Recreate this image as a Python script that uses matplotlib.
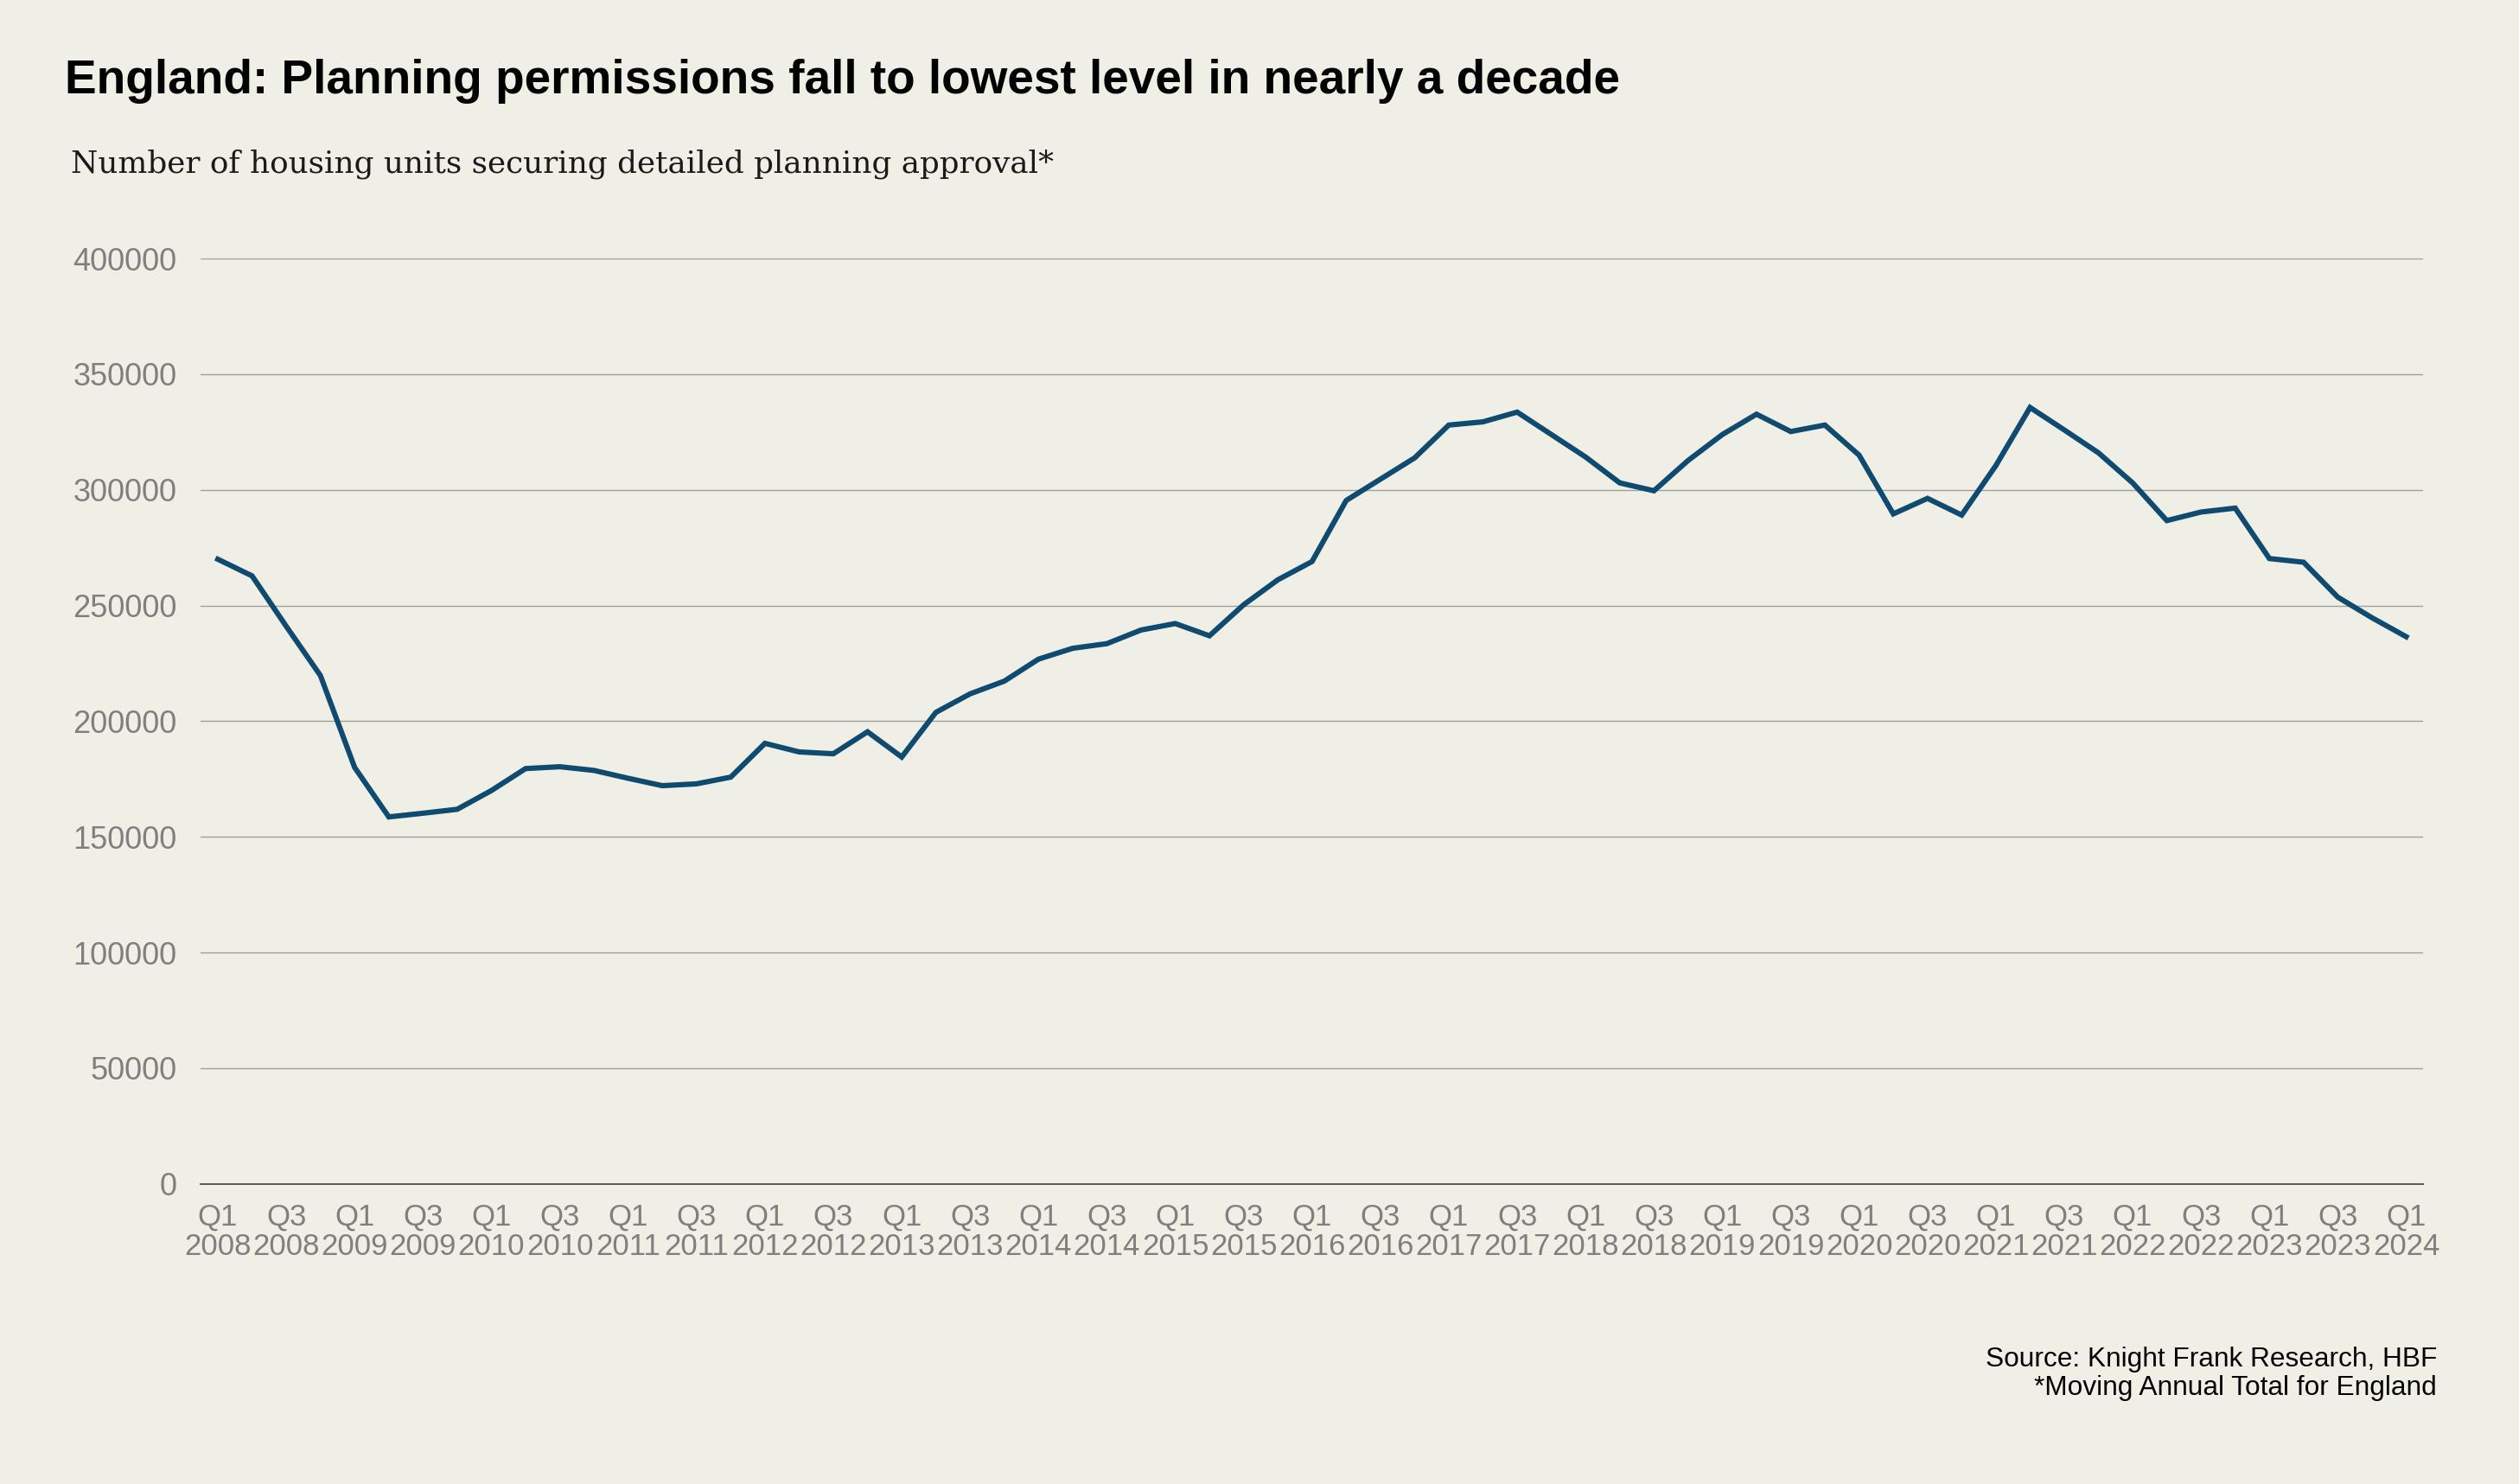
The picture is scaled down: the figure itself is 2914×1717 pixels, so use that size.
import numpy as np
import matplotlib
matplotlib.use("Agg")
from matplotlib import pyplot as plt

# quarterly moving annual total, Q1 2008 .. Q1 2024
years = list(range(2008, 2025))
quarters = [f"Q{q}\n{y}" for y in years for q in (1, 2, 3, 4)][:65]

approvals = [
    270000, 262800, 241000, 219700,   # 2008
    180000, 158600, 160200, 161900,   # 2009
    170000, 179500, 180300, 178700,   # 2010
    175300, 172100, 172900, 175800,   # 2011
    190400, 186700, 185900, 195400,   # 2012
    184500, 203800, 211800, 217300,   # 2013
    226800, 231500, 233500, 239400,   # 2014
    242200, 236900, 250300, 261100,   # 2015
    269000, 295400, 304600, 313800,   # 2016
    328000, 329400, 333600, 323900,   # 2017
    314200, 303000, 299600, 312700,   # 2018
    323900, 332700, 325200, 328000,   # 2019
    315000, 289600, 296300, 289100,   # 2020
    310500, 335600, 325900, 316000,   # 2021
    303000, 286700, 290400, 292100,   # 2022
    270300, 268700, 253600, 244700,   # 2023
    236500,                           # 2024
]
y_ticks = [0, 50000, 100000, 150000, 200000, 250000, 300000, 350000, 400000]

bg = "#F0EFE5"
line_col = "#0F4A70"
tick_col = "#7F7F7F"

plt.rcParams["font.family"] = ["Liberation Sans", "DejaVu Sans"]

fig = plt.figure(figsize=(14.57, 8.585), dpi=200, facecolor=bg)
ax = fig.add_axes([0.0797, 0.2023, 0.8823, 0.6235])
ax.set_facecolor(bg)

x = np.arange(len(approvals))
ax.plot(x, approvals, color=line_col, lw=2.2, solid_joinstyle="miter", zorder=3)

ax.set_xlim(-0.5, len(approvals) - 0.5)
ax.set_ylim(0, 400000)
ax.set_yticks(y_ticks)
ax.set_yticklabels([str(v) for v in y_ticks])
ax.yaxis.grid(True, color="#A0A0A0", lw=0.5)
ax.set_axisbelow(True)

ax.set_xticks(x[::2])
ax.set_xticklabels(quarters[::2], linespacing=1.05)

for s in ("top", "right", "left"):
    ax.spines[s].set_visible(False)
ax.spines["bottom"].set_color("#595959")
ax.spines["bottom"].set_linewidth(0.7)

ax.tick_params(axis="y", length=0, pad=10, labelsize=13, labelcolor=tick_col)
ax.tick_params(axis="x", length=0, pad=8, labelsize=12.5, labelcolor=tick_col)

fig.text(0.0257, 0.937, "England: Planning permissions fall to lowest level in nearly a decade",
         fontsize=19.8, fontweight="bold", color="black", ha="left", va="baseline")
fig.text(0.0281, 0.884, "Number of housing units securing detailed planning approval*",
         fontsize=12.9, family=["DejaVu Serif"], color="#1A1A1A",
         ha="left", va="baseline")

fig.text(0.9674, 0.060, "Source: Knight Frank Research, HBF\n*Moving Annual Total for England",
         fontsize=11.4, color="black", ha="right", va="baseline", linespacing=1.15)

fig.savefig("out.png", dpi=200, facecolor=bg)
